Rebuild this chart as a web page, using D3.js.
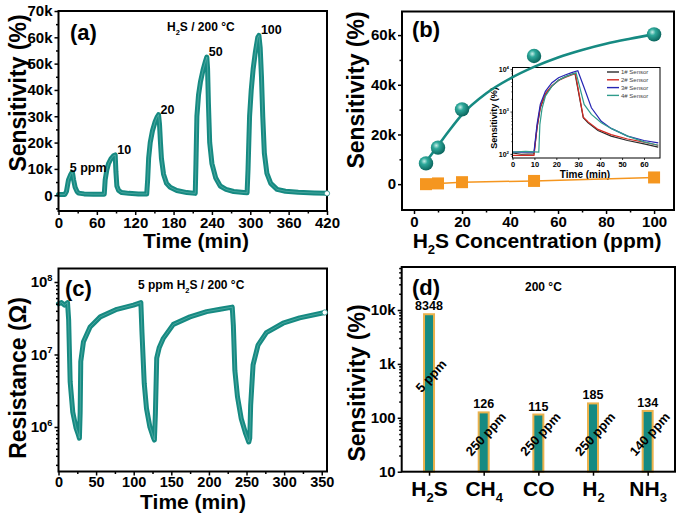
<!DOCTYPE html>
<html><head><meta charset="utf-8">
<script src="https://cdn.jsdelivr.net/npm/d3@7"></script>
<style>
body{margin:0;background:#fff;}
svg{display:block;}
</style></head><body>
<svg id="fig" width="685" height="517"></svg>
<script>
// ---------------- DATA ----------------
// (a) dynamic sensitivity vs time, H2S / 200 °C
const aTime = [0, 10, 12.5, 15.6, 19, 20.8, 22, 23.5, 26, 29, 31.3, 40, 55, 71.6,
  73, 75.5, 78.2, 82, 86, 88.7, 89.8, 91.3, 94, 99, 110, 125, 138,
  139.5, 141, 143.5, 147, 151, 154, 156.5, 158, 159.5, 161, 164.3, 169, 174.7, 185, 200.8, 213.9,
  215, 216.5, 219, 222, 226, 230, 232, 233.2, 234.5, 236.5, 240, 246, 253, 262, 274, 290, 295,
  296.5, 298.9, 301.5, 304.5, 308, 311.7, 313.5, 315.5, 317.5, 319.5, 322, 326, 332, 341.9, 355, 375, 400, 420];
const aSens = [300, 300, 1500, 5800, 7800, 8600, 8400, 6000, 3000, 1400, 800, 500, 400, 400,
  5800, 9500, 12000, 13800, 15000, 15300, 9000, 3500, 1800, 1000, 700, 500, 450,
  6000, 14000, 20000, 24500, 27800, 29600, 30600, 27000, 20000, 14000, 8000, 4500, 3000, 1800, 1000, 700,
  12000, 30000, 38000, 43000, 47500, 51000, 52500, 48000, 35000, 20000, 12000, 6500, 3500, 2200, 1400, 1000, 900,
  10000, 30000, 40000, 48000, 54500, 60000, 60700, 56000, 45000, 30000, 16000, 8300, 4500, 2200, 1500, 1100, 850, 700];
const aPeakLabels = ["5 ppm", "10", "20", "50", "100"];
const aXTicks = [0, 60, 120, 180, 240, 300, 360, 420];
const aYTicks = [0, 10000, 20000, 30000, 40000, 50000, 60000, 70000];

// (b) sensitivity vs concentration
const bConc = [5, 10, 20, 50, 100];
const bSens = [8348, 14700, 30100, 51600, 60300];
const bRefSens = [0, 300, 800, 1300, 2700];
const bFitConc = [5, 10, 15, 20, 30, 40, 50, 60, 70, 80, 90, 100];
const bFitSens = [9000, 15500, 22000, 28000, 36500, 42500, 47200, 51000, 54000, 56500, 58500, 60300];
const bXTicks = [0, 20, 40, 60, 80, 100];
const bYTicks = [0, 20000, 40000, 60000];

// (b) inset: four sensors, 5 ppm
const sensorNames = ["1# Sensor", "2# Sensor", "3# Sensor", "4# Sensor"];
const s1Time = [0, 4, 9.8, 11.2, 12.7, 15, 18, 21, 24, 27, 28.5, 32.3, 34.5, 39, 45, 52.5, 60, 66.5];
const s1Sens = [105, 98, 100, 410, 1230, 2560, 4000, 5500, 6600, 7600, 8000, 715, 540, 357, 263, 207, 173, 144];
const s2Time = [0, 9.8, 11.2, 12.7, 15, 18, 21, 24, 27, 28.7, 32.3, 34.5, 39, 45, 52.5, 60, 66.5];
const s2Sens = [92, 92, 430, 1300, 2650, 4100, 5400, 6400, 7300, 7900, 740, 570, 380, 285, 225, 190, 160];
const s3Time = [0, 9.8, 11.2, 12.7, 15, 18, 21, 24, 27, 29.8, 32.7, 36, 40.5, 45, 52.5, 60, 66.5];
const s3Sens = [110, 110, 500, 1500, 3000, 4800, 6300, 7300, 8300, 9200, 3670, 1230, 590, 400, 263, 207, 182];
const s4Time = [0, 6, 12, 12.5, 13.5, 15, 18, 21, 24, 27, 29, 32.7, 36, 40.5, 45, 52.5, 60, 66.5];
const s4Sens = [110, 115, 110, 500, 1200, 2300, 4000, 5500, 6600, 7500, 8200, 1480, 860, 543, 400, 263, 193, 160];
const insetXTicks = [0, 10, 20, 30, 40, 50, 60];
const insetYTicks = [100, 1000, 10000];

// (c) resistance vs time, 5 ppm H2S
const cTime = [0, 4, 8, 12, 13.5, 15.5, 19, 23.4, 26.6, 27.8, 28.8, 29.6, 33.2, 42, 55.5, 77.6, 99.7, 109.5,
  111, 114, 117, 121.5, 126, 127.5, 128.8, 130.6, 134, 139.4, 152.7, 174.8, 197, 215, 231,
  232.5, 234.5, 238, 243, 249, 253, 254.3, 255.5, 258.7, 265.3, 276.4, 298.5, 320.6, 354];
const cRes = [5.0e7, 5.2e7, 4.8e7, 5.2e7, 3.0e7, 4.2e6, 1.6e6, 9.6e5, 7.7e5, 7.0e5, 1.6e6, 8.0e6, 1.5e7, 2.4e7, 3.3e7, 4.2e7, 4.8e7, 5.2e7,
  2.0e7, 4.0e6, 1.8e6, 1.0e6, 7.2e5, 6.6e5, 1.5e6, 8.9e6, 1.25e7, 1.67e7, 2.6e7, 3.3e7, 3.9e7, 4.2e7, 4.5e7,
  2.5e7, 6.0e6, 2.6e6, 1.3e6, 8.0e5, 6.2e5, 7.0e5, 2.0e6, 7.2e6, 1.35e7, 2.0e7, 2.7e7, 3.2e7, 3.8e7];
const cXTicks = [0, 50, 100, 150, 200, 250, 300, 350];
const cYTicks = [1e6, 1e7, 1e8];

// (d) selectivity
const gases = ["H2S", "CH4", "CO", "H2", "NH3"];
const gasSens = [8348, 126, 115, 185, 134];
const gasConc = ["5 ppm", "250 ppm", "250 ppm", "250 ppm", "140 ppm"];
const dYTicks = [10, 100, 1000, 10000];
const dYLabels = ["10", "100", "1k", "10k"];

// ---------------- STYLE / LAYOUT ----------------
const FF = '"Liberation Sans", Arial, Helvetica, sans-serif';
const TEAL = "#168a82", ORANGE = "#f5961f";
const TICKFS = 15;
const sensorColors = ["#2b2b2b", "#d42a22", "#2626b4", "#2f9c8c"];
const PA = {l: 58.5, r: 327, t: 11, b: 211};
const PB = {l: 402, r: 674, t: 11.5, b: 210};
const PC = {l: 58.5, r: 327, t: 268.5, b: 471.5};
const PD = {l: 401.7, r: 675, t: 267, b: 471.7};
const PI = {l: 512.5, r: 660, t: 67.5, b: 158};

const svg = d3.select("#fig").attr("font-family", FF).attr("font-weight", "bold");
svg.append("rect").attr("width", 685).attr("height", 517).attr("fill", "#fff");

function rich(text, segs, fs) {
  let state = 0;
  segs.forEach(([s, k]) => {
    const target = k === "sub" ? fs * 0.32 : k === "sup" ? -fs * 0.42 : 0;
    const t = text.append("tspan").text(s);
    if (target - state !== 0) t.attr("dy", target - state);
    if (k) t.attr("font-size", fs * 0.62);
    state = target;
  });
  return text;
}
function chemSegs(str) {
  return str.split(/(\d)/).filter(p => p !== "").map(p => /^\d$/.test(p) ? [p, "sub"] : [p]);
}
function addText(x, y, fs, anchor) {
  return svg.append("text").attr("x", x).attr("y", y).attr("font-size", fs)
    .attr("text-anchor", anchor || "start").attr("fill", "#000");
}
function axis(gen, pos, values, fmt, size, pad, fs, sw) {
  const g = svg.append("g").attr("transform", pos)
    .call(gen.tickValues(values).tickFormat(fmt).tickSize(size).tickSizeOuter(0).tickPadding(pad));
  g.attr("font-family", null).attr("font-size", null);
  g.select(".domain").remove();
  g.selectAll("line").attr("stroke", "#000").attr("stroke-width", sw || 1.5);
  g.selectAll("text").attr("font-size", fs || TICKFS).attr("font-family", FF).attr("font-weight", "bold").attr("fill", "#000");
  return g;
}
const none = () => "";
function frame(P, sw) {
  svg.append("rect").attr("x", P.l).attr("y", P.t).attr("width", P.r - P.l).attr("height", P.b - P.t)
    .attr("fill", "none").attr("stroke", "#000").attr("stroke-width", sw);
}
function range(a, b, s) { return d3.range(a, b + s / 2, s); }
function logMinor(lo, hi) {
  const out = [];
  for (let e = Math.floor(Math.log10(lo)); e <= Math.ceil(Math.log10(hi)); e++)
    for (let m = 2; m <= 9; m++) { const v = m * Math.pow(10, e); if (v > lo && v < hi) out.push(v); }
  return out;
}
function yTitle(x, y, str, fs) {
  return svg.append("text").attr("transform", `translate(${x},${y}) rotate(-90)`).attr("text-anchor", "middle")
    .attr("dy", "0.35em").attr("font-size", fs).attr("fill", "#000").text(str);
}
const kfmt = d => d === 0 ? "0" : (d / 1000) + "k";

// ================= PANEL (a) =================
{
  const x = d3.scaleLinear([0, 420], [PA.l, PA.r]);
  const y = d3.scaleLinear([-6000, 70000], [PA.b, PA.t]);
  const pts = aTime.map((t, i) => [t, aSens[i]]);
  svg.append("path").datum(pts).attr("fill", "none").attr("stroke", TEAL).attr("stroke-width", 5)
    .attr("stroke-linejoin", "round").attr("stroke-linecap", "round")
    .attr("d", d3.line().x(d => x(d[0])).y(d => y(d[1])));
  svg.append("path").datum(pts).attr("fill", "none").attr("stroke", "#9fd6d0").attr("stroke-width", 0.6)
    .attr("stroke-opacity", 0.6).attr("d", d3.line().x(d => x(d[0])).y(d => y(d[1])));
  axis(d3.axisBottom(x), `translate(0,${PA.b})`, aXTicks, d => d, 4, 2);
  axis(d3.axisBottom(x), `translate(0,${PA.b})`, range(30, 390, 60), none, 2.5, 0);
  axis(d3.axisLeft(y), `translate(${PA.l},0)`, aYTicks, kfmt, 4, 2);
  axis(d3.axisLeft(y), `translate(${PA.l},0)`, range(-5000, 65000, 10000), none, 2.5, 0);
  frame(PA, 2);
  const last = pts[pts.length - 1];
  svg.append("circle").attr("cx", x(last[0])).attr("cy", y(last[1])).attr("r", 2.6).attr("fill", "#fff").attr("stroke", TEAL).attr("stroke-width", 0.8);
  // peak labels at local maxima
  const peaks = pts.filter((p, i) => i > 0 && i < pts.length - 1 && p[1] > pts[i - 1][1] && p[1] >= pts[i + 1][1] && p[1] > 5000);
  peaks.forEach((p, i) => addText(x(p[0]) + (i === 0 ? -2 : 2), y(p[1]) - 1, 12.5).text(aPeakLabels[i]));
  addText(70, 40, 22).text("(a)");
  rich(addText(167, 31, 12), [["H"], ["2", "sub"], ["S / 200 °C"]], 12);
  yTitle(18, 93, "Sensitivity (%)", 23);
  addText(196, 248, 21, "middle").text("Time (min)");
}

// ================= PANEL (b) =================
{
  const x = d3.scaleLinear([-5, 108.3], [PB.l, PB.r]);
  const y = d3.scaleLinear([-10400, 69500], [PB.b, PB.t]);
  // inset
  const xi = d3.scaleLinear([0, 67.3], [PI.l, PI.r]);
  const yi = d3.scaleLog([80, 11000], [PI.b, PI.t]);
  const series = [[s1Time, s1Sens], [s2Time, s2Sens], [s3Time, s3Sens], [s4Time, s4Sens]];
  const li = d3.line().x(d => xi(d[0])).y(d => yi(d[1]));
  series.forEach(([ts, vs], k) => {
    svg.append("path").datum(ts.map((t, i) => [t, vs[i]])).attr("fill", "none")
      .attr("stroke", sensorColors[k]).attr("stroke-width", 1.2).attr("d", li);
  });
  axis(d3.axisBottom(xi), `translate(0,${PI.b})`, insetXTicks, d => d, 2, 1.5, 7.5, 0.8);
  const gyi = axis(d3.axisLeft(yi), `translate(${PI.l},0)`, insetYTicks, none, 2, 1.5, 7, 0.8);
  gyi.selectAll(".tick text").each(function (d) {
    rich(d3.select(this).text(""), [["10"], [String(Math.round(Math.log10(d))), "sup"]], 7);
  });
  axis(d3.axisLeft(yi), `translate(${PI.l},0)`, logMinor(80, 11000), none, 1.2, 0, 7, 0.6);
  frame(PI, 1);
  sensorNames.forEach((n, k) => {
    const yy = 72 + k * 7.8;
    svg.append("line").attr("x1", 607).attr("x2", 619).attr("y1", yy).attr("y2", yy)
      .attr("stroke", sensorColors[k]).attr("stroke-width", 1.4);
    addText(621, yy + 2.2, 6).attr("font-weight", "normal").attr("fill", "#444").text(n);
  });
  svg.append("text").attr("transform", `translate(494,118) rotate(-90)`).attr("text-anchor", "middle")
    .attr("dy", "0.35em").attr("font-size", 9).text("Sensitivity (%)");
  addText(585, 177.5, 10, "middle").text("Time (min)");

  // reference (orange) line + squares
  svg.append("path").datum(bConc.map((c, i) => [c, bRefSens[i]])).attr("fill", "none")
    .attr("stroke", ORANGE).attr("stroke-width", 1.5).attr("d", d3.line().x(d => x(d[0])).y(d => y(d[1])));
  svg.selectAll(null).data(bConc.map((c, i) => [c, bRefSens[i]])).join("rect")
    .attr("x", d => x(d[0]) - 6).attr("y", d => y(d[1]) - 6).attr("width", 12).attr("height", 12).attr("fill", ORANGE);
  // fit curve
  svg.append("path").datum(bFitConc.map((c, i) => [c, bFitSens[i]])).attr("fill", "none")
    .attr("stroke", TEAL).attr("stroke-width", 2.6)
    .attr("d", d3.line().curve(d3.curveMonotoneX).x(d => x(d[0])).y(d => y(d[1])));
  // spheres
  const grad = svg.append("defs").append("radialGradient").attr("id", "sph").attr("cx", "38%").attr("cy", "35%").attr("r", "65%");
  grad.append("stop").attr("offset", "0%").attr("stop-color", "#c8eee8");
  grad.append("stop").attr("offset", "35%").attr("stop-color", "#2ea99b");
  grad.append("stop").attr("offset", "100%").attr("stop-color", "#0b665e");
  svg.selectAll(null).data(bConc.map((c, i) => [c, bSens[i]])).join("circle")
    .attr("cx", d => x(d[0])).attr("cy", d => y(d[1])).attr("r", 7.2).attr("fill", "url(#sph)");

  axis(d3.axisBottom(x), `translate(0,${PB.b})`, bXTicks, d => d, 4, 2);
  axis(d3.axisBottom(x), `translate(0,${PB.b})`, range(10, 90, 20), none, 2.5, 0);
  axis(d3.axisLeft(y), `translate(${PB.l},0)`, bYTicks, kfmt, 4, 2);
  axis(d3.axisLeft(y), `translate(${PB.l},0)`, [10000, 30000, 50000], none, 2.5, 0);
  frame(PB, 2);
  addText(412, 37, 22).text("(b)");
  yTitle(356, 90, "Sensitivity (%)", 23);
  rich(addText(537, 247.5, 21, "middle"), [["H"], ["2", "sub"], ["S Concentration (ppm)"]], 21);
}

// ================= PANEL (c) =================
{
  const x = d3.scaleLinear([0, 357], [PC.l, PC.r]);
  const y = d3.scaleLog([2.43e5, 1.535e8], [PC.b, PC.t]);
  const pts = cTime.map((t, i) => [t, cRes[i]]);
  const ln = d3.line().x(d => x(d[0])).y(d => y(d[1]));
  svg.append("path").datum(pts).attr("fill", "none").attr("stroke", TEAL).attr("stroke-width", 5)
    .attr("stroke-linejoin", "round").attr("stroke-linecap", "round").attr("d", ln);
  svg.append("path").datum(pts).attr("fill", "none").attr("stroke", "#9fd6d0").attr("stroke-width", 0.6)
    .attr("stroke-opacity", 0.6).attr("d", ln);
  axis(d3.axisBottom(x), `translate(0,${PC.b})`, cXTicks, d => d, 4, 1.5, 14.5);
  axis(d3.axisBottom(x), `translate(0,${PC.b})`, range(25, 325, 50), none, 2.5, 0);
  const gy = axis(d3.axisLeft(y), `translate(${PC.l},0)`, cYTicks, none, 4, 2);
  gy.selectAll(".tick text").each(function (d) {
    rich(d3.select(this).text(""), [["10"], [String(Math.round(Math.log10(d))), "sup"]], TICKFS);
  });
  axis(d3.axisLeft(y), `translate(${PC.l},0)`, logMinor(2.43e5, 1.535e8), none, 2.5, 0);
  frame(PC, 2);
  const last = pts[pts.length - 1];
  svg.append("circle").attr("cx", x(last[0])).attr("cy", y(last[1])).attr("r", 2.6).attr("fill", "#fff").attr("stroke", TEAL).attr("stroke-width", 0.8);
  addText(65, 296, 22).text("(c)");
  rich(addText(138, 289, 12), [["5 ppm H"], ["2", "sub"], ["S / 200 °C"]], 12);
  yTitle(18, 378, "Resistance (Ω)", 23);
  addText(193, 508.5, 21, "middle").text("Time (min)");
}

// ================= PANEL (d) =================
{
  const x = d3.scalePoint(gases, [PD.l, PD.r]).padding(0.5);
  const y = d3.scaleLog([10, 62800], [PD.b, PD.t]);
  svg.selectAll(null).data(gases.map((g, i) => [g, gasSens[i]])).join("rect")
    .attr("x", d => x(d[0]) - 5).attr("width", 10)
    .attr("y", d => y(d[1])).attr("height", d => PD.b - y(d[1]))
    .attr("fill", TEAL).attr("stroke", "#ebb24c").attr("stroke-width", 2);
  gases.forEach((g, i) => {
    addText(x(g), y(gasSens[i]) - 4, 12.5, "middle").text(gasSens[i]);
    const cy = i === 0 ? y(600) : y(50);
    svg.append("text").attr("transform", `translate(${x(g) + 2},${cy}) rotate(-48)`).attr("text-anchor", "middle")
      .attr("dy", "0.35em").attr("font-size", 13).attr("fill", "#000").text(gasConc[i]);
  });
  const gx = axis(d3.axisBottom(x), `translate(0,${PD.b})`, gases, none, 4, 5, 21);
  gx.selectAll(".tick text").each(function (d) { rich(d3.select(this).text(""), chemSegs(d), 21); });
  axis(d3.axisLeft(y), `translate(${PD.l},0)`, dYTicks, d => dYLabels[dYTicks.indexOf(d)], 4, 2);
  axis(d3.axisLeft(y), `translate(${PD.l},0)`, logMinor(10, 62800), none, 2.5, 0);
  frame(PD, 2);
  addText(412, 295, 22).text("(d)");
  addText(525, 291, 12).text("200 °C");
  yTitle(357, 383, "Sensitivity (%)", 23);
}
</script>
</body></html>
